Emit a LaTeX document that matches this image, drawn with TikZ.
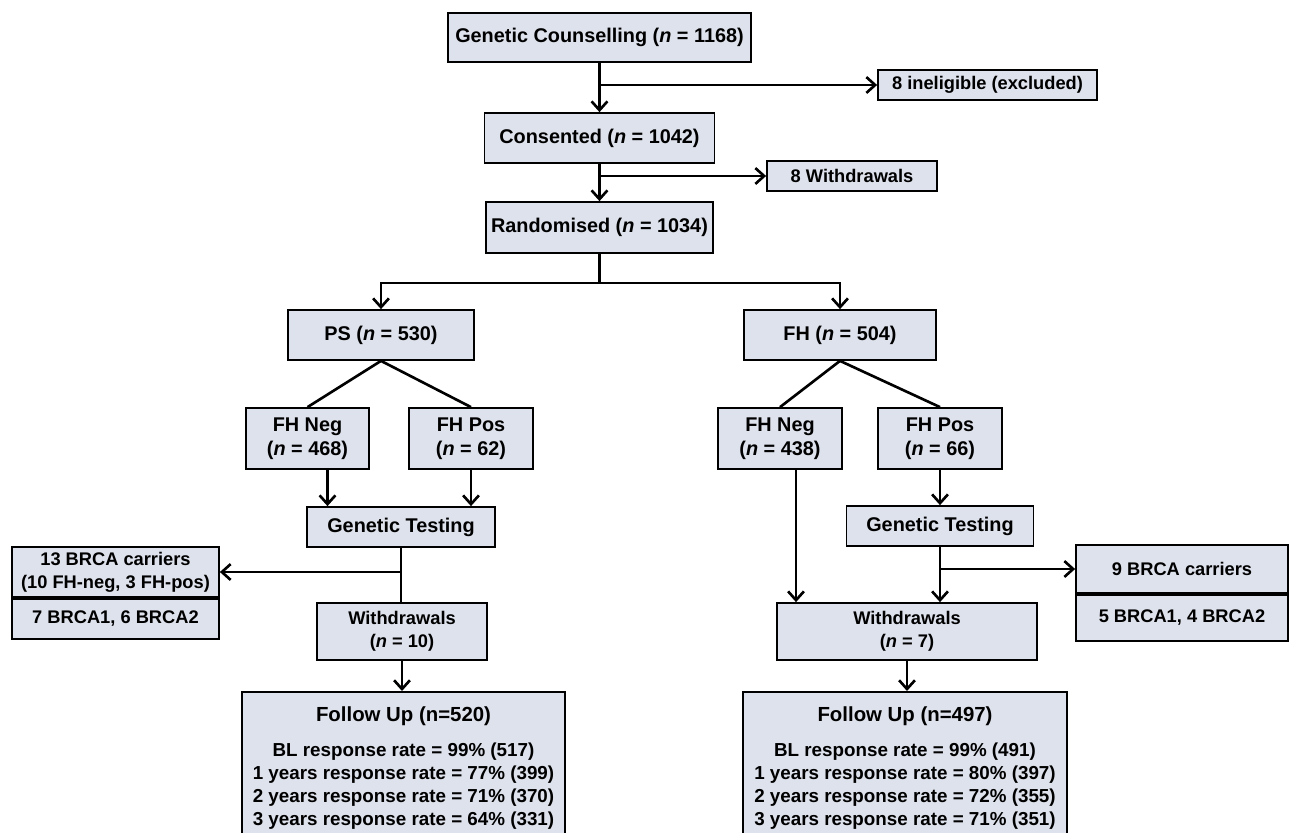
\documentclass[tikz,border=0pt]{standalone}
\usepackage{fontspec}
\setmainfont{Liberation Sans}
\usepackage{tikz}
\usetikzlibrary{arrows.meta, positioning}
\definecolor{pale}{RGB}{222, 226, 236}

\newcommand{\futitle}[1]{{\fontsize{11.6}{13}\selectfont #1}}

\tikzset{
  sz/.style 2 args={minimum width=#1*0.02cm, minimum height=#2*0.02cm},
  box/.style={draw, fill=pale, line width=1pt, inner sep=0pt, align=center,
    font=\bfseries\fontsize{11.3}{13.5}\selectfont},
  sbox/.style={box, font=\bfseries\fontsize{10.4}{13}\selectfont},
  fbox/.style={box, font=\bfseries\fontsize{10.7}{13}\selectfont},
  link/.style={line width=1.5pt},
  arr/.style={link, -{Straight Barb[length=5pt, width=9pt]}},
}

\begin{document}
\begin{tikzpicture}[x=0.02cm, y=-0.02cm]

\clip (0, 0) rectangle (1291, 832);

% enrolment
\node[box, sz={303}{49}] (gc) at (599.5, 37.5) {Genetic Counselling (\textit{n} = 1168)};
\node[sbox, sz={219}{30}] (inel) at (987.5, 85) {8 ineligible (excluded)};
\node[box, sz={230}{50}] (cons) at (599.5, 138) {Consented (\textit{n} = 1042)};
\node[sbox, sz={170}{30}] (wdr) at (852, 176) {8 Withdrawals};
\node[box, sz={227}{51}] (rand) at (599.5, 227.5) {Randomised (\textit{n} = 1034)};
\coordinate (split) at (599.5, 283);

% PS arm
\node[box, sz={186}{50}] (ps) at (381, 335) {PS (\textit{n} = 530)};
\node[box, sz={123}{61}] (psneg) at (307.5, 438.5) {FH Neg\\(\textit{n} = 468)};
\node[box, sz={124}{61}] (pspos) at (471, 438.5) {FH Pos\\(\textit{n} = 62)};
\node[box, sz={188}{40}] (psgt) at (401, 527) {Genetic Testing};
\node[sbox, sz={207}{50}] (psbrca) at (115.5, 572) {13 BRCA carriers\\(10 FH-neg, 3 FH-pos)};
\node[sbox, sz={207}{40}, below=0pt of psbrca] (psbrcan) {7 BRCA1, 6 BRCA2};
\node[sbox, sz={170}{57}] (pswd) at (402, 631.5) {Withdrawals\\(\textit{n} = 10)};
\node[fbox, sz={323}{152}, anchor=north] (psfu) at (403.5, 691)
  {\futitle{Follow Up (n=520)}\\[7pt]
   BL response rate = 99\% (517)\\
   1 years response rate = 77\% (399)\\
   2 years response rate = 71\% (370)\\
   3 years response rate = 64\% (331)};

% FH arm
\node[box, sz={192}{50}] (fh) at (840, 335) {FH (\textit{n} = 504)};
\node[box, sz={124}{61}] (fhneg) at (780, 438.5) {FH Neg\\(\textit{n} = 438)};
\node[box, sz={124}{61}] (fhpos) at (940, 438.5) {FH Pos\\(\textit{n} = 66)};
\node[box, sz={187}{40}] (fhgt) at (940, 526) {Genetic Testing};
\node[sbox, sz={212}{48}] (fhbrca) at (1182, 569) {9 BRCA carriers};
\node[sbox, sz={212}{46}, below=0pt of fhbrca] (fhbrcan) {5 BRCA1, 4 BRCA2};
\node[sbox, sz={260}{57}] (fhwd) at (907, 631.5) {Withdrawals\\(\textit{n} = 7)};
\node[fbox, sz={324}{152}, anchor=north] (fhfu) at (905, 691)
  {\futitle{Follow Up (n=497)}\\[7pt]
   BL response rate = 99\% (491)\\
   1 years response rate = 80\% (397)\\
   2 years response rate = 72\% (355)\\
   3 years response rate = 71\% (351)};

% connectors
\draw[arr] (gc) -- (cons);
\draw[arr] (gc.south |- inel) -- (inel);
\draw[arr] (cons) -- (rand);
\draw[arr] (cons.south |- wdr) -- (wdr);
\draw[link] (rand) -- (split);
\draw[arr] (split) -| (ps);
\draw[arr] (split) -| (fh);

\draw[link] (ps.south) -- (psneg.north);
\draw[link] (ps.south) -- (pspos.north);
\draw[arr] ([xshift=0.4cm]psneg.south) -- ([xshift=0.4cm]psneg.south |- psgt.north);
\draw[arr] (pspos.south) -- (pspos.south |- psgt.north);
\draw[link] (psgt.south) -- (psgt.south |- pswd.north);
\draw[arr] (psgt.south |- psbrca) -- (psbrca);
\draw[arr] (pswd.south) -- (pswd.south |- psfu.north);

\draw[link] (fh.south) -- (fhneg.north);
\draw[link] (fh.south) -- (fhpos.north);
\draw[arr] ([xshift=0.32cm]fhneg.south) -- ([xshift=0.32cm]fhneg.south |- fhwd.north);
\draw[arr] (fhpos.south) -- (fhpos.south |- fhgt.north);
\draw[arr] (fhgt.south) -- (fhgt.south |- fhwd.north);
\draw[arr] (fhgt.south |- fhbrca) -- (fhbrca);
\draw[arr] (fhwd.south) -- (fhwd.south |- fhfu.north);

\end{tikzpicture}
\end{document}
